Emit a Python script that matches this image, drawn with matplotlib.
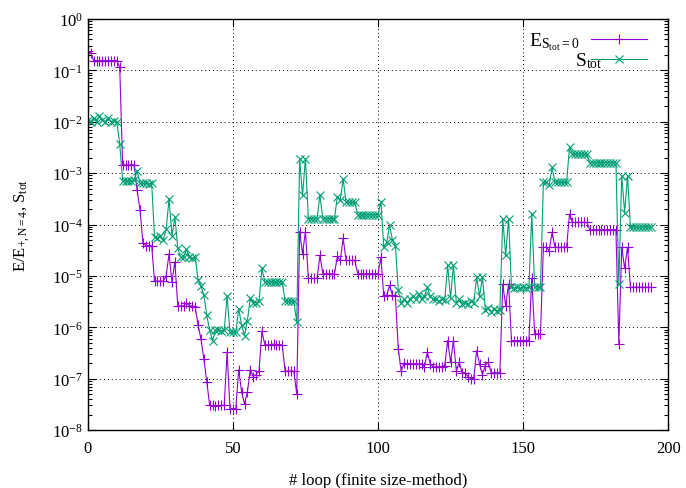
import numpy as np
import matplotlib
matplotlib.use('Agg')
import matplotlib.pyplot as plt
from matplotlib.ticker import LogLocator, MultipleLocator, NullFormatter

plt.rcParams['font.family'] = ['Liberation Serif', 'DejaVu Serif']
plt.rcParams['mathtext.fontset'] = 'custom'
plt.rcParams['mathtext.rm'] = 'Liberation Serif'
plt.rcParams['mathtext.it'] = 'Liberation Serif'
plt.rcParams['mathtext.default'] = 'regular'
plt.rcParams['font.size'] = 12

# energy ratio per sweep step
E_ratio = [
    0.24, 0.22, 0.155, 0.155, 0.155, 0.155, 0.155, 0.155, 0.155, 0.155,
    0.155, 0.115, 1.45e-3, 1.45e-3, 1.45e-3, 1.45e-3, 1.45e-3, 4.6e-4, 1.9e-4, 4.4e-5,
    3.9e-5, 3.9e-5, 3.9e-5, 7.9e-6, 7.9e-6, 7.9e-6, 7.9e-6, 1.0e-5, 2.7e-5, 7.5e-6,
    1.9e-5, 2.6e-6, 2.6e-6, 2.6e-6, 3.0e-6, 2.6e-6, 2.6e-6, 2.5e-6, 1.1e-6, 5.9e-7,
    2.4e-7, 8.7e-8, 3.0e-8, 3.0e-8, 2.9e-8, 3.0e-8, 3.0e-8, 3.0e-8, 3.3e-7, 2.6e-8,
    2.6e-8, 2.6e-8, 1.5e-7, 5.5e-8, 3.2e-8, 5.5e-8, 1.5e-7, 1.1e-7, 1.2e-7, 1.4e-7,
    8.3e-7, 4.6e-7, 4.5e-7, 4.6e-7, 4.7e-7, 4.5e-7, 4.6e-7, 4.5e-7, 1.4e-7, 1.4e-7,
    1.4e-7, 1.4e-7, 5.0e-8, 7.3e-5, 2.7e-5, 7.3e-5, 8.9e-6, 8.9e-6, 8.9e-6, 8.9e-6,
    2.5e-5, 1.1e-5, 1.1e-5, 1.1e-5, 1.1e-5, 1.1e-5, 2.4e-5, 2.0e-5, 5.4e-5, 2.0e-5,
    2.0e-5, 2.0e-5, 2.0e-5, 1.1e-5, 1.1e-5, 1.1e-5, 1.1e-5, 1.1e-5, 1.1e-5, 1.1e-5,
    1.1e-5, 2.3e-5, 4.0e-6, 4.2e-6, 6.5e-6, 4.2e-6, 4.0e-6, 3.8e-7, 1.4e-7, 2.0e-7,
    1.95e-7, 1.95e-7, 1.95e-7, 1.95e-7, 1.95e-7, 1.95e-7, 1.7e-7, 3.3e-7, 1.95e-7, 1.7e-7,
    1.7e-7, 1.7e-7, 1.7e-7, 1.8e-7, 5.5e-7, 2.1e-7, 5.5e-7, 1.4e-7, 2.1e-7, 1.3e-7,
    1.3e-7, 1.1e-7, 1.0e-7, 1.0e-7, 3.5e-7, 1.9e-7, 1.2e-7, 1.8e-7, 2.1e-7, 1.3e-7,
    1.3e-7, 1.3e-7, 1.3e-7, 6.9e-6, 2.6e-6, 6.9e-6, 5.5e-7, 5.5e-7, 5.5e-7, 5.5e-7,
    5.5e-7, 5.5e-7, 5.5e-7, 8.9e-6, 7.4e-7, 7.4e-7, 7.4e-7, 3.6e-5, 3.6e-5, 3.1e-5,
    7.1e-5, 3.6e-5, 3.6e-5, 3.6e-5, 3.6e-5, 3.6e-5, 1.6e-4, 1.1e-4, 1.1e-4, 1.1e-4,
    1.1e-4, 1.1e-4, 1.1e-4, 7.9e-5, 7.9e-5, 7.9e-5, 7.9e-5, 7.9e-5, 7.9e-5, 7.9e-5,
    7.9e-5, 7.9e-5, 7.9e-5, 4.8e-7, 3.6e-5, 1.4e-5, 3.6e-5, 6.0e-6, 6.0e-6, 6.0e-6,
    6.0e-6, 6.0e-6, 6.0e-6, 6.0e-6, 6.0e-6,
]

# total spin per sweep step
S_tot = [
    1.1e-2, 1.0e-2, 1.2e-2, 1.0e-2, 1.3e-2, 1.1e-2, 1.0e-2, 1.2e-2, 1.0e-2, 1.05e-2,
    1.0e-2, 3.7e-3, 7.1e-4, 7.1e-4, 7.0e-4, 7.1e-4, 7.2e-4, 1.1e-3, 6.4e-4, 6.3e-4,
    6.4e-4, 6.2e-4, 6.4e-4, 5.6e-5, 5.5e-5, 6.0e-5, 5.0e-5, 8.0e-5, 3.2e-4, 6.0e-5,
    1.4e-4, 3.5e-5, 2.3e-5, 2.3e-5, 3.3e-5, 2.3e-5, 2.2e-5, 2.3e-5, 8.5e-6, 6.4e-6,
    4.2e-6, 1.7e-6, 8.7e-7, 5.5e-7, 8.7e-7, 9.0e-7, 8.5e-7, 8.7e-7, 4.0e-6, 8.0e-7,
    8.0e-7, 8.0e-7, 2.3e-6, 1.1e-6, 6.9e-7, 1.35e-6, 3.7e-6, 3.0e-6, 3.0e-6, 3.2e-6,
    1.4e-5, 7.6e-6, 7.6e-6, 7.6e-6, 7.6e-6, 7.6e-6, 7.6e-6, 7.6e-6, 3.2e-6, 3.2e-6,
    3.2e-6, 3.2e-6, 1.26e-6, 1.9e-3, 3.7e-4, 1.9e-3, 1.3e-4, 1.3e-4, 1.3e-4, 1.3e-4,
    3.7e-4, 1.3e-4, 1.3e-4, 1.3e-4, 1.3e-4, 1.3e-4, 3.5e-4, 3.0e-4, 7.7e-4, 2.7e-4,
    2.7e-4, 2.7e-4, 2.7e-4, 1.55e-4, 1.55e-4, 1.55e-4, 1.55e-4, 1.55e-4, 1.55e-4, 1.55e-4,
    1.55e-4, 2.8e-4, 3.6e-5, 4.5e-5, 9.6e-5, 5.0e-5, 3.9e-5, 5.2e-6, 3.0e-6, 3.5e-6,
    3.0e-6, 3.5e-6, 4.0e-6, 3.5e-6, 4.5e-6, 3.5e-6, 4.0e-6, 6.0e-6, 4.0e-6, 3.5e-6,
    3.5e-6, 3.2e-6, 3.5e-6, 3.4e-6, 1.6e-5, 3.7e-6, 1.6e-5, 3.0e-6, 3.5e-6, 2.8e-6,
    3.0e-6, 2.8e-6, 3.2e-6, 3.0e-6, 9.4e-6, 4.0e-6, 9.4e-6, 2.2e-6, 2.4e-6, 2.0e-6,
    2.3e-6, 2.1e-6, 2.2e-6, 1.3e-4, 2.5e-5, 1.3e-4, 6.0e-6, 5.8e-6, 6.0e-6, 5.7e-6,
    6.0e-6, 5.9e-6, 6.0e-6, 1.6e-4, 6.0e-6, 6.1e-6, 6.0e-6, 6.6e-4, 6.6e-4, 5.9e-4,
    1.3e-3, 6.6e-4, 6.6e-4, 6.6e-4, 6.6e-4, 6.6e-4, 3.2e-3, 2.35e-3, 2.35e-3, 2.35e-3,
    2.35e-3, 2.35e-3, 2.35e-3, 1.6e-3, 1.6e-3, 1.6e-3, 1.6e-3, 1.6e-3, 1.6e-3, 1.6e-3,
    1.6e-3, 1.6e-3, 1.6e-3, 6.9e-6, 8.9e-4, 1.7e-4, 8.9e-4, 8.9e-5, 8.9e-5, 8.9e-5,
    8.9e-5, 8.9e-5, 8.9e-5, 8.9e-5, 8.9e-5,
]

loop = np.arange(len(E_ratio))

fig = plt.figure(figsize=(6.86, 4.89), dpi=100)
ax = fig.add_axes([0.128, 0.1186, 0.846, 0.8405])

ax.plot(loop, E_ratio, color='#9400d3', lw=0.8, marker='+', ms=7, mew=0.8,
        label=r'$E_{S_{tot}=0}$')
ax.plot(loop, S_tot, color='#009e73', lw=0.8, marker='x', ms=6, mew=0.8,
        label=r'$S_{tot}$')

ax.set_yscale('log')
ax.set_xlim(0, 200)
ax.set_ylim(1e-8, 1)
ax.xaxis.set_major_locator(MultipleLocator(50))
ax.yaxis.set_major_locator(LogLocator(base=10, numticks=20))
ax.yaxis.set_minor_locator(LogLocator(base=10, subs=np.arange(2, 10), numticks=20))
ax.yaxis.set_minor_formatter(NullFormatter())
ax.tick_params(which='both', direction='in', top=True, right=True)
ax.tick_params(which='major', length=6, width=0.8)
ax.tick_params(which='minor', length=3, width=0.8)
ax.tick_params(axis='x', pad=7)

ax.grid(True, which='major', color='black', linestyle=(0, (1, 3)), lw=0.7)
for s in ax.spines.values():
    s.set_linewidth(1.0)

ax.set_xlabel('# loop (finite size-method)', labelpad=12)
ax.set_ylabel(r'$E/E_{+,N=4}$, $S_{tot}$', labelpad=14)

leg = ax.legend(loc='upper right', bbox_to_anchor=(0.984, 1.0), frameon=False,
                markerfirst=False, handlelength=2.9, handletextpad=0.6,
                borderaxespad=0.2, labelspacing=-0.1, fontsize=14)
# right-align the legend labels like gnuplot
renderer = fig.canvas.get_renderer()
widths = [t.get_window_extent(renderer).width for t in leg.get_texts()]
w = max(widths)
for t, wi in zip(leg.get_texts(), widths):
    t.set_position((w - wi, 0))

fig.savefig('out.png', dpi=100)
